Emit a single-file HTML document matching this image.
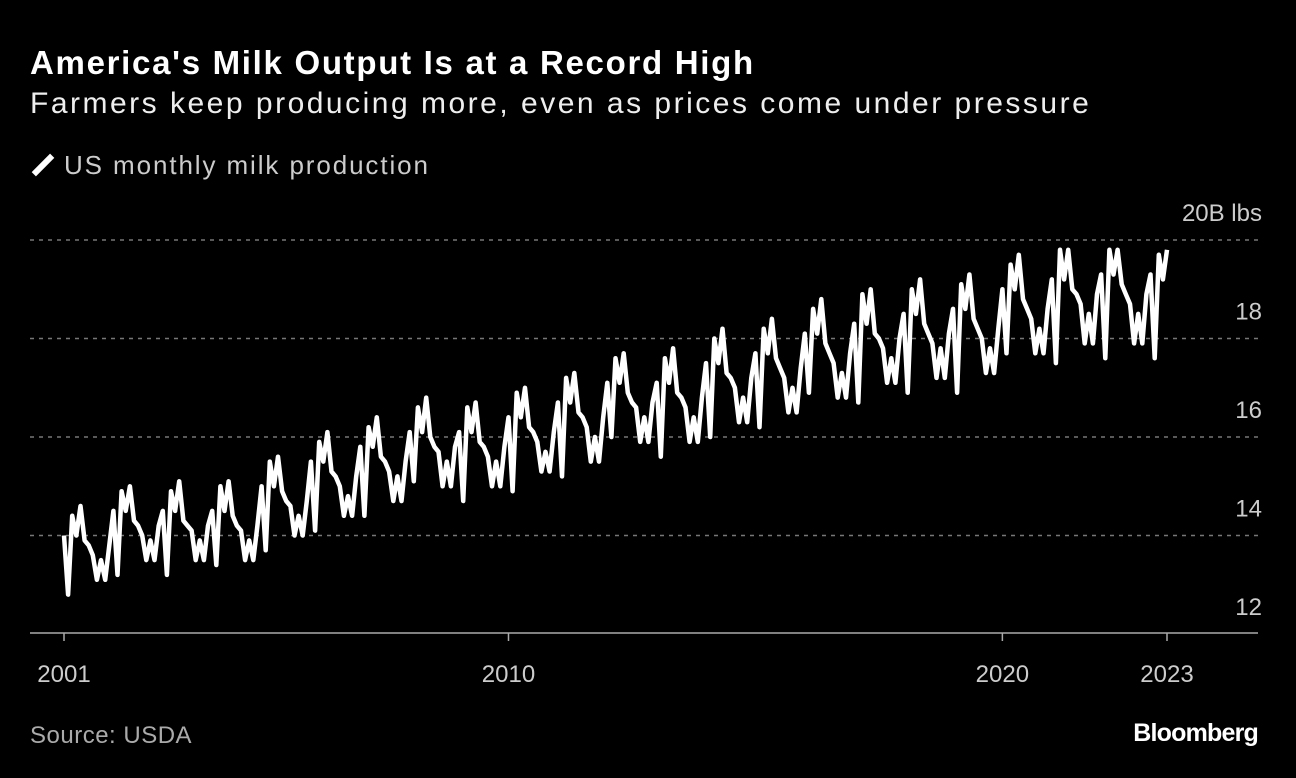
<!DOCTYPE html>
<html><head><meta charset="utf-8"><style>
body{margin:0;background:#000;width:1296px;height:778px;overflow:hidden;font-family:"Liberation Sans",sans-serif;color:#fff}
.t{position:absolute;white-space:nowrap}
</style></head><body>
<div class="t" style="left:30px;top:44px;font-size:33px;font-weight:bold;letter-spacing:1.7px">America's Milk Output Is at a Record High</div>
<div class="t" style="left:30px;top:87px;font-size:30px;color:#eee;letter-spacing:2.5px">Farmers keep producing more, even as prices come under pressure</div>
<div class="t" style="left:30px;top:150px;font-size:26px;color:#ccc;letter-spacing:1.9px"><span style="display:inline-block;width:26px;height:6px;background:#fff;transform:rotate(-45deg);vertical-align:middle;margin:0 8px 4px 0"></span>US monthly milk production</div>
<svg id="c" width="1296" height="778" style="position:absolute;left:0;top:0"></svg>
<div class="t" style="left:30px;top:722px;font-size:24px;color:#aaa;letter-spacing:0.5px">Source: USDA</div>
<div class="t" style="right:38px;top:719px;font-size:25px;font-weight:bold;letter-spacing:-0.8px">Bloomberg</div>
<script>
const values=[
14.0,12.8,14.4,14.0,14.6,13.9,13.8,13.6,13.1,13.5,13.1,13.8,
14.5,13.2,14.9,14.5,15.0,14.3,14.2,14.0,13.5,13.9,13.5,14.2,
14.5,13.2,14.9,14.5,15.1,14.3,14.2,14.1,13.5,13.9,13.5,14.2,
14.5,13.4,15.0,14.5,15.1,14.4,14.2,14.1,13.5,13.9,13.5,14.2,
15.0,13.7,15.5,15.0,15.6,14.9,14.7,14.6,14.0,14.4,14.0,14.7,
15.5,14.1,15.9,15.5,16.1,15.3,15.2,15.0,14.4,14.8,14.4,15.2,
15.8,14.4,16.2,15.8,16.4,15.6,15.5,15.3,14.7,15.2,14.7,15.5,
16.1,15.1,16.6,16.1,16.8,16.0,15.8,15.7,15.0,15.5,15.0,15.8,
16.1,14.7,16.6,16.1,16.7,15.9,15.8,15.6,15.0,15.5,15.0,15.8,
16.4,14.9,16.9,16.4,17.0,16.2,16.1,15.9,15.3,15.7,15.3,16.1,
16.7,15.2,17.2,16.7,17.3,16.5,16.4,16.2,15.5,16.0,15.5,16.4,
17.1,16.0,17.6,17.1,17.7,16.9,16.7,16.6,15.9,16.4,15.9,16.7,
17.1,15.6,17.6,17.1,17.8,16.9,16.8,16.6,15.9,16.4,15.9,16.8,
17.5,16.0,18.0,17.5,18.2,17.3,17.2,17.0,16.3,16.8,16.3,17.2,
17.7,16.2,18.2,17.7,18.4,17.6,17.4,17.2,16.5,17.0,16.5,17.4,
18.1,16.9,18.6,18.1,18.8,17.9,17.7,17.5,16.8,17.3,16.8,17.7,
18.3,16.7,18.9,18.3,19.0,18.1,18.0,17.8,17.1,17.6,17.1,18.0,
18.5,16.9,19.0,18.5,19.2,18.3,18.1,17.9,17.2,17.8,17.2,18.1,
18.6,16.9,19.1,18.6,19.3,18.4,18.2,18.0,17.3,17.8,17.3,18.2,
19.0,17.7,19.5,19.0,19.7,18.8,18.6,18.4,17.7,18.2,17.7,18.6,
19.2,17.5,19.8,19.2,19.8,19.0,18.9,18.7,17.9,18.5,17.9,18.9,
19.3,17.6,19.8,19.3,19.8,19.1,18.9,18.7,17.9,18.5,17.9,18.9,
19.3,17.6,19.7,19.2,19.8];
const yTicks=[12,14,16,18,20];
const yTickLabels=["12","14","16","18","20B lbs"];
const xTickYears=[2001,2010,2020,2023];
const startYear=2001;
const svg=document.getElementById('c');
const NS='http://www.w3.org/2000/svg';
const X0=64,X1=1167,Y0=634,Y1=240;
const n=values.length;
const xs=i=>X0+i*(X1-X0)/(n-1);
const ys=v=>Y0+(v-12)*(Y1-Y0)/8;
function mk(t,a){const e=document.createElementNS(NS,t);for(const k in a)e.setAttribute(k,a[k]);svg.appendChild(e);return e;}
yTicks.forEach((v,i)=>{
  if(v>12){const g=mk('line',{x1:30,x2:1258,y1:ys(v),y2:ys(v),stroke:'#777','stroke-width':1.5,'stroke-dasharray':'4,5'});
  
  }
  const t=mk('text',{x:1262,y:ys(v)-19,'text-anchor':'end','font-size':24,fill:'#ccc','font-family':'Liberation Sans, sans-serif'});
  t.textContent=yTickLabels[i];
  
  
});
const ax=mk('line',{x1:30,x2:1258,y1:633,y2:633,stroke:'#aaa','stroke-width':1.5});


xTickYears.forEach(y=>{
  const idx=Math.min((y-startYear)*12,n-1);
  const x=y===2023?xs(n-1):xs(idx);
  const tk=mk('line',{x1:x,x2:x,y1:633,y2:641,stroke:'#aaa','stroke-width':1.5});
  
  
  const t=mk('text',{x:x,y:682,'text-anchor':'middle','font-size':24,fill:'#ccc','font-family':'Liberation Sans, sans-serif'});
  t.textContent=y;
  
  
});
const p=mk('polyline',{points:values.map((v,i)=>xs(i).toFixed(1)+','+ys(v).toFixed(1)).join(' '),fill:'none',stroke:'#fff','stroke-width':4.5,'stroke-linejoin':'round'});


</script>
</body></html>
